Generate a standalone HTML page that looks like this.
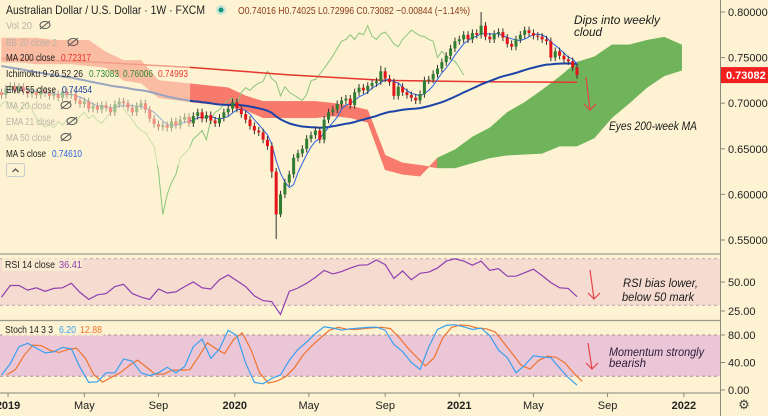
<!DOCTYPE html>
<html><head><meta charset="utf-8"><style>
html,body{margin:0;padding:0;background:#fdf3d2;}
svg{display:block;font-family:"Liberation Sans",sans-serif;}
</style></head><body>
<svg id="c" width="768" height="416" viewBox="0 0 768 416" xmlns="http://www.w3.org/2000/svg">
<rect x="0" y="0" width="768" height="416" fill="#fdf3d2"/>
<g id="main"></g>
<g id="rsi"></g>
<g id="stoch"></g>
<g id="ui"></g>
</svg>
<script>
const closes=[0.709,0.716,0.719,0.714,0.718,0.713,0.710,0.712,0.709,0.714,
0.711,0.708,0.710,0.706,0.713,0.709,0.710,0.703,0.699,0.702,
0.694,0.697,0.693,0.698,0.695,0.690,0.699,0.702,0.700,0.695,
0.690,0.697,0.700,0.693,0.683,0.677,0.674,0.676,0.673,0.680,
0.676,0.682,0.685,0.678,0.686,0.690,0.683,0.687,0.681,0.678,
0.684,0.690,0.694,0.701,0.694,0.688,0.682,0.675,0.670,0.668,
0.660,0.653,0.625,0.578,0.600,0.613,0.622,0.640,0.645,0.650,
0.661,0.665,0.670,0.660,0.682,0.690,0.693,0.699,0.703,0.705,
0.698,0.712,0.717,0.714,0.719,0.722,0.724,0.735,0.727,0.723,
0.708,0.718,0.712,0.709,0.706,0.703,0.710,0.725,0.726,0.732,
0.738,0.745,0.752,0.760,0.768,0.770,0.775,0.770,0.777,0.775,
0.785,0.773,0.770,0.776,0.778,0.772,0.765,0.762,0.770,0.775,
0.780,0.777,0.774,0.773,0.770,0.768,0.750,0.757,0.752,0.748,
0.746,0.73926,0.73082];
const firstOpen=0.712;
const extremeLows={63:0.551,64:0.575,62:0.618};
const extremeHighs={110:0.800,87:0.741};
const ma200=[0.749,0.745,0.739,0.731,0.725,0.7235,0.723];
const ma200Step=22;
const spanA=[0.745,0.745,0.743,0.743,0.743,0.741,0.739,0.725,0.722,0.706,0.7035,0.701,0.699,0.697,0.6925,0.684,0.684,0.684,0.684,0.686,0.684,0.679,0.627,0.622,0.620,0.640,0.649,0.663,0.673,0.690,0.701,0.7145,0.729,0.745,0.751,0.764,0.764,0.769,0.7725,0.764];
const spanB=[0.7715,0.7715,0.7715,0.769,0.769,0.769,0.756,0.747,0.747,0.725,0.723,0.721,0.719,0.717,0.708,0.702,0.702,0.702,0.702,0.700,0.697,0.6925,0.643,0.6345,0.632,0.629,0.629,0.6345,0.640,0.643,0.644,0.645,0.653,0.653,0.662,0.684,0.700,0.717,0.730,0.736];
const cloudStep=4;
const rsiVals=[37,47,47,43,45,42,44.5,45,49,41,35,39,40,46,48,40,37,35,44,40.5,41.5,46,50,45,44,52,56,51,46,38,34,33,22,42,44.8,49,54,60,57,59,62,64.5,64.8,69,65,53,59.5,52,57.5,58.5,62,68,70,68,64.5,68,60,61.5,55,55,58,61,55.5,49.5,45,44.5,37.3];
const stochK=[22,38,63,68,61,54,55.5,62,60,33,11,12,25,25,45,42,25,21,25,33,25,34,63,74,46,60,87,79,39,11,9,17,22,43,59,70,82,92,90,87,89,90,91,91.5,87,66,56,40,30,63,88,94,95,92,88,90,79,58,47,25,36,50,48,47,32,18,7];
const oscStep=2;
const priceTicks=[0.80,0.75,0.70,0.65,0.60,0.55];
const rsiTicks=[50,25];
const stochTicks=[80,40,0];
const timeLabels=["2019","May","Sep","2020","May","Sep","2021","May","Sep","2022"];
const timeLabelWeeks=[1.5,19,36,53.5,70.5,88,105,122,139,156.5];

const NS="http://www.w3.org/2000/svg";
function mk(tag,attrs,parent){const e=document.createElementNS(NS,tag);for(const k in attrs)e.setAttribute(k,attrs[k]);parent.appendChild(e);return e;}
const xW=i=>1.5+i*4.36;
const yP=p=>12+(0.80-p)*912;
const yR=v=>282-(v-50)*1.16;
const yS=v=>390-v*0.6875;
const main=document.getElementById('main'),rsiG=document.getElementById('rsi'),stG=document.getElementById('stoch'),ui=document.getElementById('ui');

for(let j=0;j<spanA.length-1;j++){
  const x1=xW(j*cloudStep),x2=xW((j+1)*cloudStep);
  const a1=spanA[j],a2=spanA[j+1],b1=spanB[j],b2=spanB[j+1];
  const green=(a1+a2)>(b1+b2);
  const p=mk('polygon',{points:`${x1},${yP(a1)} ${x2},${yP(a2)} ${x2},${yP(b2)} ${x1},${yP(b1)}`,fill:green?'#6fb35a':'#f77a6c',stroke:green?'#6fb35a':'#f77a6c','stroke-width':0.5},main);
  
  
}
let ch='';closes.forEach((c,i)=>{ch+=(i?'L':'M')+xW(i-26).toFixed(1)+','+yP(c).toFixed(1);});
const chk=mk('path',{d:ch,fill:'none',stroke:'#8cc47c','stroke-width':1},main);


let m2='';ma200.forEach((v,j)=>{m2+=(j?'L':'M')+xW(j*ma200Step).toFixed(1)+','+yP(v).toFixed(1);});
const m2e=mk('path',{d:m2,fill:'none',stroke:'#e8352b','stroke-width':1.5},main);


let ema=0.742,ed='';closes.forEach((c,i)=>{ema=ema+(c-ema)*2/56;ed+=(i?'L':'M')+xW(i).toFixed(1)+','+yP(ema).toFixed(1);});
const ee=mk('path',{d:ed,fill:'none',stroke:'#1c44a8','stroke-width':2},main);


let md='';closes.forEach((c,i)=>{const s=closes.slice(Math.max(0,i-4),i+1);const m=s.reduce((a,b)=>a+b,0)/s.length;md+=(i?'L':'M')+xW(i).toFixed(1)+','+yP(m).toFixed(1);});
const me=mk('path',{d:md,fill:'none',stroke:'#2c62e0','stroke-width':1},main);


closes.forEach((c,i)=>{
  const o=i?closes[i-1]:firstOpen;
  const hi=extremeHighs[i]!==undefined?extremeHighs[i]:Math.max(o,c)+0.004;
  const lo=extremeLows[i]!==undefined?extremeLows[i]:Math.min(o,c)-0.004;
  const up=c>=o,col=up?'#2f7d32':'#e3151b';
  const x=xW(i);
  const g=mk('g',{},main);
  
  
  mk('line',{x1:x,x2:x,y1:yP(hi),y2:yP(lo),stroke:'#333','stroke-width':1},g);
  const t=yP(Math.max(o,c)),b=yP(Math.min(o,c));
  mk('rect',{x:x-1.5,y:t,width:3,height:Math.max(1,b-t),fill:col},g);
});
const ann=[["Dips into weekly",574,24,86],["cloud",574,36,28],["Eyes 200-week MA",609,130,88]];
ann.forEach(a=>{const t=mk('text',{x:a[1],y:a[2],'font-size':12,'font-style':'italic',fill:'#1a1a1a',textLength:a[3],lengthAdjust:'spacingAndGlyphs'},main);t.textContent=a[0];

});
function arrow(g,x1,y1,x2,y2,name){const a=mk('g',{stroke:'#e8424a','stroke-width':1.2,fill:'none'},g);


mk('line',{x1,y1,x2,y2},a);mk('path',{d:`M${x2-6},${y2-6}L${x2},${y2}L${x2+6},${y2-6}`},a);}
arrow(main,586,77,590,110,'price-down-arrow');

const rb=mk('rect',{x:0,y:yR(70),width:720,height:yR(30)-yR(70),fill:'#f6dcd0'},rsiG);


[70,30].forEach(v=>mk('line',{x1:0,x2:720,y1:yR(v),y2:yR(v),stroke:'#b8a0b0','stroke-dasharray':'3,3','stroke-width':1},rsiG));
let rd='';rsiVals.forEach((v,k)=>{rd+=(k?'L':'M')+xW(k*oscStep).toFixed(1)+','+yR(v).toFixed(1);});
const rl=mk('path',{d:rd,fill:'none',stroke:'#8e3fb0','stroke-width':1.2},rsiG);


[["RSI bias lower,",623,287,75],["below 50 mark",622,301,72]].forEach(a=>{const t=mk('text',{x:a[1],y:a[2],'font-size':12,'font-style':'italic',fill:'#1a1a1a',textLength:a[3],lengthAdjust:'spacingAndGlyphs'},rsiG);t.textContent=a[0];

});
arrow(rsiG,590,270,594,299,'rsi-down-arrow');

const sb=mk('rect',{x:0,y:yS(80),width:720,height:yS(20)-yS(80),fill:'#ebc6d6'},stG);


[80,20].forEach(v=>mk('line',{x1:0,x2:720,y1:yS(v),y2:yS(v),stroke:'#a89098','stroke-dasharray':'3,3','stroke-width':1},stG));
let kd='',dd='';stochK.forEach((v,k)=>{const d=k?(v+stochK[k-1])/2:v;kd+=(k?'L':'M')+xW(k*oscStep).toFixed(1)+','+yS(v).toFixed(1);dd+=(k?'L':'M')+xW(k*oscStep+1.2).toFixed(1)+','+yS(d).toFixed(1);});
const dl=mk('path',{d:dd,fill:'none',stroke:'#f0732e','stroke-width':1.2},stG);


const kl=mk('path',{d:kd,fill:'none',stroke:'#3aa0f0','stroke-width':1.2},stG);


[["Momentum strongly",609,356,95],["bearish",609,367,37]].forEach(a=>{const t=mk('text',{x:a[1],y:a[2],'font-size':12,'font-style':'italic',fill:'#2a1a3a',textLength:a[3],lengthAdjust:'spacingAndGlyphs'},stG);t.textContent=a[0];

});
arrow(stG,588,343,592,369,'stoch-down-arrow');

[[0,254,720,254],[0,320.5,720,320.5],[0,393,720,393]].forEach(l=>mk('line',{x1:l[0],y1:l[1],x2:l[2],y2:l[3],stroke:'#9a9a8a','stroke-width':1.3},ui));
mk('line',{x1:720.5,y1:0,x2:720.5,y2:416,stroke:'#8a8a7a','stroke-width':1},ui);
priceTicks.forEach(p=>{mk('line',{x1:720,x2:725,y1:yP(p),y2:yP(p),stroke:'#8a8a7a'},ui);const t=mk('text',{x:728,y:yP(p)+4,'font-size':11,fill:'#222'},ui);t.textContent=p.toFixed(5);

});
rsiTicks.forEach(v=>{mk('line',{x1:720,x2:725,y1:yR(v),y2:yR(v),stroke:'#8a8a7a'},ui);const t=mk('text',{x:728,y:yR(v)+4,'font-size':11,fill:'#222'},ui);t.textContent=v.toFixed(2);

});
stochTicks.forEach(v=>{mk('line',{x1:720,x2:725,y1:yS(v),y2:yS(v),stroke:'#8a8a7a'},ui);const t=mk('text',{x:728,y:yS(v)+4,'font-size':11,fill:'#222'},ui);t.textContent=v.toFixed(2);

});
timeLabels.forEach((s,i)=>{const x=xW(timeLabelWeeks[i]);mk('line',{x1:x,x2:x,y1:393,y2:397,stroke:'#8a8a7a'},ui);const t=mk('text',{x:x,y:409,'font-size':11,'text-anchor':'middle',fill:'#222','font-weight':(/^\d/.test(s)?'bold':'normal')},ui);t.textContent=s;

});
const pl=mk('g',{},ui);


const lastC=closes[closes.length-1];
mk('rect',{x:721,y:yP(lastC)-8,width:47,height:16,fill:'#f21f1f'},pl);
const plt=mk('text',{x:726,y:yP(lastC)+4,'font-size':11,'font-weight':'bold',fill:'#fff'},pl);plt.textContent=lastC.toFixed(5);
const gear=mk('text',{x:744,y:409,'font-size':13,'text-anchor':'middle',fill:'#444'},ui);gear.textContent='⚙';



const lb=mk('rect',{x:0,y:17,width:190,height:148,fill:'#fdf3d2','fill-opacity':0.55},ui);


const title=mk('text',{x:6,y:14,'font-size':12,fill:'#222',textLength:199,lengthAdjust:'spacingAndGlyphs'},ui);title.textContent='Australian Dollar / U.S. Dollar · 1W · FXCM';


mk('circle',{cx:221,cy:10,r:5,fill:'#c8e6d8'},ui);mk('circle',{cx:221,cy:10,r:2.5,fill:'#15927a'},ui);
const ohlc=mk('text',{x:238,y:14,'font-size':10.5,fill:'#8a3a1a',textLength:232,lengthAdjust:'spacingAndGlyphs'},ui);ohlc.textContent='O0.74016 H0.74025 L0.72996 C0.73082 −0.00844 (−1.14%)';


// [label, value, y, hidden, color, labelEnd, valueX, eyeX]
const legend=[["Vol 20","",25,true,'',32,0,41],["BB 20 close 2","",42,true,'',57,0,69],["MA 200 close","0.72317",57,false,'#e8352b',55,61,0],["Ichimoku 9 26 52 26","",73,false,'',83,0,0],["EMA 55 close","0.74454",89,false,'#1c44a8',56,62,0],["MA 20 close","",105,true,'',51,0,62],["EMA 21 close","",121,true,'',55,0,68],["MA 50 close","",137,true,'',51,0,62],["MA 5 close","0.74610",153,false,'#2c62e0',46,52,0]];
legend.forEach(l=>{const t=mk('text',{x:6,y:l[2]+4,'font-size':10.5,fill:l[3]?'#b8b4a8':'#222',textLength:l[5]-6,lengthAdjust:'spacingAndGlyphs'},ui);t.textContent=l[0];


if(l[1]){const v=mk('text',{x:l[6],y:l[2]+4,'font-size':10.5,fill:l[4],textLength:30,lengthAdjust:'spacingAndGlyphs'},ui);v.textContent=l[1];}
if(l[3]){mk('ellipse',{cx:l[7]+4,cy:l[2],rx:5,ry:3.5,fill:'none',stroke:'#555','stroke-width':1},ui);mk('line',{x1:l[7]-1,y1:l[2]+4,x2:l[7]+9,y2:l[2]-4,stroke:'#555'},ui);}});
const ich=[["0.73083",89,'#2f8a2f'],["0.76006",123,'#2f8a2f'],["0.74993",158,'#e8352b']];
ich.forEach(a=>{const t=mk('text',{x:a[1],y:77,'font-size':10.5,fill:a[2],textLength:30,lengthAdjust:'spacingAndGlyphs'},ui);t.textContent=a[0];

});
const cb=mk('rect',{x:6.5,y:163.5,width:18,height:13,rx:2,fill:'#fdf3d2',stroke:'#ccc'},ui);


mk('path',{d:'M12.5,172L15.5,169L18.5,172',fill:'none',stroke:'#333'},ui);
mk('rect',{x:2,y:258,width:80,height:13,fill:'#fdf3d2','fill-opacity':0.6},ui);
const rt=mk('text',{x:5,y:268,'font-size':10,fill:'#222',textLength:50,lengthAdjust:'spacingAndGlyphs'},ui);rt.textContent='RSI 14 close';


const rv=mk('text',{x:59,y:268,'font-size':10,fill:'#8e3fb0',textLength:23,lengthAdjust:'spacingAndGlyphs'},ui);rv.textContent='36.41';
mk('rect',{x:2,y:323,width:102,height:13,fill:'#fdf3d2','fill-opacity':0.6},ui);
const st=mk('text',{x:5,y:333,'font-size':10,fill:'#222',textLength:48,lengthAdjust:'spacingAndGlyphs'},ui);st.textContent='Stoch 14 3 3';


const sv1=mk('text',{x:59,y:333,'font-size':10,fill:'#3aa0f0',textLength:17,lengthAdjust:'spacingAndGlyphs'},ui);sv1.textContent='6.20';
const sv2=mk('text',{x:80,y:333,'font-size':10,fill:'#f0732e',textLength:22,lengthAdjust:'spacingAndGlyphs'},ui);sv2.textContent='12.88';
</script>
</body></html>
